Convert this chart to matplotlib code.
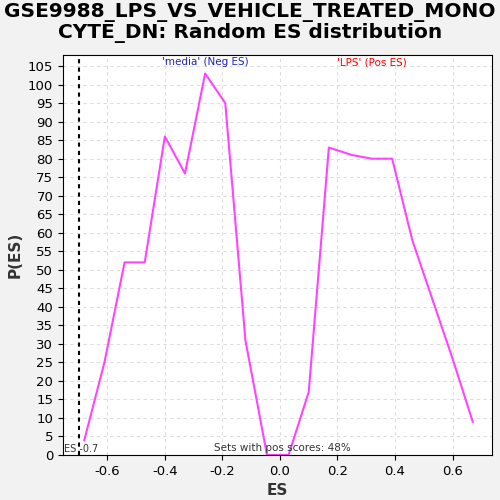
import numpy as np
import matplotlib.pyplot as plt

es = [-0.68, -0.61, -0.54, -0.47, -0.40, -0.33, -0.26, -0.19, -0.12, -0.045,
      0.03, 0.10, 0.17, 0.25, 0.32, 0.39, 0.46, 0.53, 0.60, 0.67]
pes = [4, 25, 52, 52, 86, 76, 103, 95, 31, 0,
       0, 17, 83, 81, 80, 80, 58, 42, 26, 9]

fig = plt.figure(figsize=(5, 5), dpi=100)
fig.patch.set_facecolor('#f2f2f2')
ax = fig.add_axes([0.126, 0.09, 0.858, 0.80])
ax.plot(es, pes, color='#ff44ff', lw=1.5)
ax.axvline(-0.7, color='black', ls=(0, (2, 2)), lw=1.5)
ax.set_xlim(-0.754, 0.737)
ax.set_ylim(0, 108)
ax.set_yticks(range(0, 106, 5))
ax.set_xticks([-0.6, -0.4, -0.2, 0.0, 0.2, 0.4, 0.6])
ax.set_xticklabels(['-0.6', '-0.4', '-0.2', '0.0', '0.2', '0.4', '0.6'])
ax.tick_params(labelsize=9.5)
ax.grid(True, color='#dddddd', ls=(0, (3, 3)), lw=0.8)
ax.set_xlabel('ES', fontsize=11, fontweight='bold', color='#333333')
ax.set_ylabel('P(ES)', fontsize=11, fontweight='bold', color='#333333')
ax.text(-0.26, 106, "'media' (Neg ES)", color='#2222bb', fontsize=7.5, ha='center', va='center')
ax.text(0.32, 106, "'LPS' (Pos ES)", color='red', fontsize=7.5, ha='center', va='center')
ax.text(0.01, 0.5, 'Sets with pos scores: 48%', fontsize=7.5, ha='center', va='bottom', color='#333333')
ax.text(-0.75, 0.2, 'ES -0.7', fontsize=7, ha='left', va='bottom', color='#333333')
fig.suptitle('GSE9988_LPS_VS_VEHICLE_TREATED_MONO\nCYTE_DN: Random ES distribution',
             fontsize=14.5, fontweight='bold', y=0.995, linespacing=1.1)
fig.savefig('out.png')
